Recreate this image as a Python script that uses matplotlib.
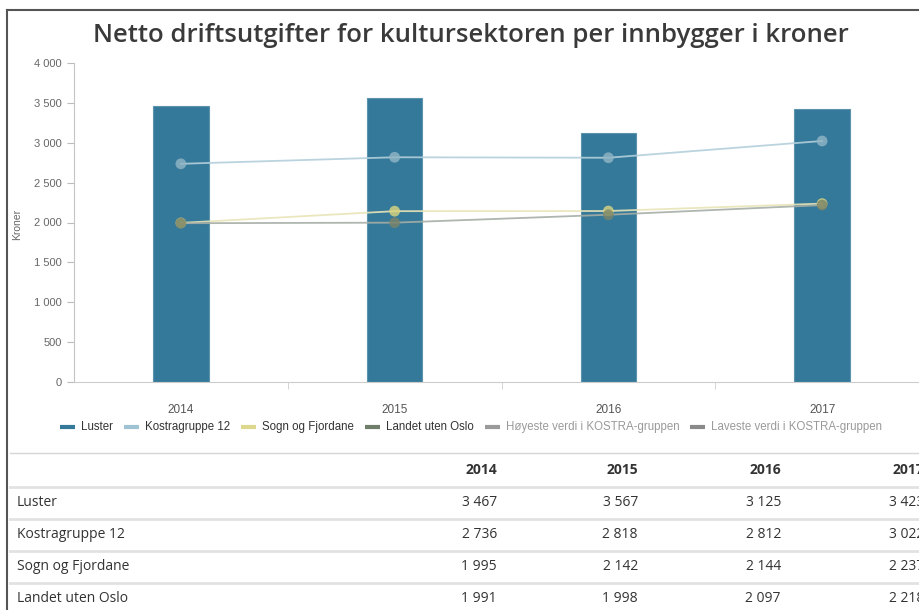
""" Netto driftsutgifter for kultursektoren, Luster og sammenligningsgrupper. """

import matplotlib.pyplot as plt
from matplotlib.lines import Line2D

W, H = 920, 610

years = ["2014", "2015", "2016", "2017"]
luster = [3467, 3567, 3125, 3423]
kostragruppe = [2736, 2818, 2812, 3022]
sogn_fjordane = [1995, 2142, 2144, 2237]
landet_uten_oslo = [1991, 1998, 2097, 2218]

row_names = ["Luster", "Kostragruppe 12", "Sogn og Fjordane", "Landet uten Oslo"]
rows = [luster, kostragruppe, sogn_fjordane, landet_uten_oslo]

legend_items = [
    ("Luster", "#35799a", "#333333"),
    ("Kostragruppe 12", "#9fc3d2", "#333333"),
    ("Sogn og Fjordane", "#dcd98f", "#333333"),
    ("Landet uten Oslo", "#6f7d6b", "#333333"),
    ("Høyeste verdi i KOSTRA-gruppen", "#9a9a9a", "#9a9a9a"),
    ("Laveste verdi i KOSTRA-gruppen", "#8a8a8a", "#9a9a9a"),
]


def fmt(v):
    return f"{v:,}".replace(",", " ")


def px(x, y):
    """pixel coords (top-left origin) -> figure fraction"""
    return x / W, 1 - y / H


fig = plt.figure(figsize=(W / 100, H / 100), dpi=100)

# plot area
x0, x1, ytop, ybot = 74, 929, 63, 382
ax = fig.add_axes([x0 / W, 1 - ybot / H, (x1 - x0) / W, (ybot - ytop) / H])
xs = list(range(len(years)))

ax.bar(xs, luster, width=0.26, color="#35799a", edgecolor="#5b93ad", linewidth=0.8, zorder=2)

line_styles = [
    (kostragruppe, "#b3cfdb", "#92b6c5"),
    (sogn_fjordane, "#e8e5b8", "#dcd67e"),
    (landet_uten_oslo, "#a6aea6", "#7b8468"),
]
for vals, lc, mc in line_styles:
    ax.plot(xs, vals, color=lc, linewidth=1.3, alpha=0.9, zorder=3)
    ax.scatter(xs, vals, s=60, color=mc, alpha=0.8, edgecolors="none", zorder=4)

ax.set_xlim(-0.5, 3.5)
ax.set_ylim(0, 4000)
ax.set_yticks(range(0, 4001, 500))
ax.set_yticklabels([fmt(v) for v in range(0, 4001, 500)])
ax.set_xticks(xs)
ax.set_xticklabels(years)
ax.set_xticks([0.5, 1.5, 2.5], minor=True)
ax.tick_params(axis="x", which="major", length=0, pad=16, labelsize=8.5, labelcolor="#555555")
ax.tick_params(axis="x", which="minor", length=5, color="#cccccc", direction="out")
ax.tick_params(axis="y", length=5, color="#bbbbbb", pad=4, labelsize=8, labelcolor="#666666")
for lab in ax.get_xticklabels() + ax.get_yticklabels():
    lab.set_family("Liberation Sans")

for side in ["top", "right"]:
    ax.spines[side].set_visible(False)
ax.spines["left"].set_color("#c4c4c4")
ax.spines["bottom"].set_color("#cccccc")

fig.text(*px(17, 224), "Kroner", rotation=90, ha="center", va="center",
         fontsize=7.5, color="#666666", family="Liberation Sans")

fig.text(*px(471, 35), "Netto driftsutgifter for kultursektoren per innbygger i kroner",
         ha="center", va="center", fontsize=18.5, fontweight="semibold",
         color="#3a3a3a", family="Open Sans")

# legend drawn by hand so that spacing follows the text widths
fig.canvas.draw()
renderer = fig.canvas.get_renderer()
lx, ly = 60, 427
for label, lc, tc in legend_items:
    fig.add_artist(Line2D([lx / W, (lx + 15) / W], [1 - ly / H] * 2,
                          color=lc, linewidth=3, solid_capstyle="butt"))
    t = fig.text(*px(lx + 21, ly), label, ha="left", va="center", fontsize=8.3,
                 color=tc, family="Liberation Sans")
    lx += 21 + t.get_window_extent(renderer).width + 11

# table below the chart
col_right = [497, 638, 781, 924]
header_y = 470
row_y = [502, 534, 566, 598]
sep_y = [487, 519, 551, 583]

fig.add_artist(Line2D([10 / W, 1], [1 - 453 / H] * 2, color="#d6d6d6", linewidth=1))
for y in sep_y:
    fig.add_artist(Line2D([10 / W, 1], [1 - y / H] * 2, color="#e2e2e2", linewidth=2))

for year, xr in zip(years, col_right):
    fig.text(*px(xr, header_y), year, ha="right", va="center", fontsize=10,
             fontweight="bold", color="#333333", family="Open Sans")

for name, vals, y in zip(row_names, rows, row_y):
    fig.text(*px(17, y), name, ha="left", va="center", fontsize=10,
             color="#333333", family="Open Sans")
    for v, xr in zip(vals, col_right):
        fig.text(*px(xr, y), fmt(v), ha="right", va="center", fontsize=10,
                 color="#333333", family="Open Sans")

# frame around the panel
fig.add_artist(Line2D([7 / W, 7 / W], [0, 1 - 10 / H], color="#555555", linewidth=1.5))
fig.add_artist(Line2D([7 / W, 1], [1 - 10 / H] * 2, color="#555555", linewidth=1.5))

fig.savefig("out.png", dpi=100)
plt.close(fig)
